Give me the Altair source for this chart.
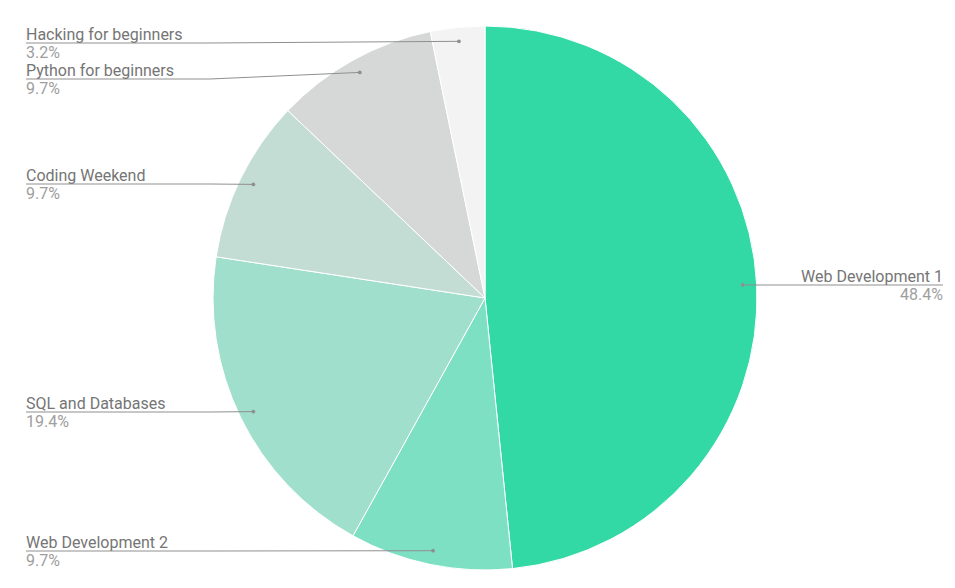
import altair as alt
import pandas as pd

# data
courses = ["Web Development 1", "Web Development 2", "SQL and Databases",
           "Coding Weekend", "Python for beginners", "Hacking for beginners"]
counts = [15, 3, 6, 3, 3, 1]
colors = ["#33d9a5", "#7de0c3", "#9fdfcb", "#c3ddd5", "#d5d8d7", "#f3f3f3"]

# label layout (pixel rows of the leader lines, side of the label)
label_rows = [277, 543, 404, 176, 71, 35]
label_sides = ["right", "left", "left", "left", "left", "left"]

CX, CY, R, RDOT = 477, 290, 272, 258

df = pd.DataFrame({
    "course": courses,
    "value": counts,
    "order": list(range(len(courses))),
    "laby": label_rows,
    "side": label_sides,
})

base = (
    alt.Chart(df)
    .transform_joinaggregate(total="sum(value)")
    .transform_window(cum="sum(value)", sort=[alt.SortField("order")], frame=[None, 0])
    .transform_calculate(
        mid="2*PI*(datum.cum - datum.value/2)/datum.total",
        pct="format(datum.value/datum.total, '.1%')",
    )
    .transform_calculate(
        dx=f"{CX} + {RDOT}*sin(datum.mid)",
        dy=f"{CY} - {RDOT}*cos(datum.mid)",
        labx="datum.side == 'left' ? 18 : 935",
        elbx="datum.side == 'left' ? 202 : 752",
    )
)

pie = alt.Chart(df).mark_arc(outerRadius=R, stroke="white", strokeWidth=1).encode(
    theta=alt.Theta("value:Q", stack=True),
    order=alt.Order("order:Q"),
    color=alt.Color("course:N", scale=alt.Scale(domain=courses, range=colors), legend=None),
    x=alt.value(CX),
    y=alt.value(CY),
)

line_color = "#8f8f8f"
rule1 = base.mark_rule(color=line_color, strokeWidth=1).encode(
    x=alt.X("labx:Q", scale=None), x2="elbx:Q",
    y=alt.Y("laby:Q", scale=None), y2="laby:Q",
)
rule2 = base.mark_rule(color=line_color, strokeWidth=1).encode(
    x=alt.X("elbx:Q", scale=None), x2="dx:Q",
    y=alt.Y("laby:Q", scale=None), y2="dy:Q",
)
dots = base.mark_circle(color=line_color, opacity=1, size=14).encode(
    x=alt.X("dx:Q", scale=None), y=alt.Y("dy:Q", scale=None),
)

def texts(side, align):
    b = base.transform_filter(f"datum.side == '{side}'")
    t1 = b.mark_text(align=align, baseline="alphabetic", dy=-3.5, font="Roboto",
                     fontSize=16, color="#757575").encode(
        x=alt.X("labx:Q", scale=None), y=alt.Y("laby:Q", scale=None), text="course:N")
    t2 = b.mark_text(align=align, baseline="alphabetic", dy=15, font="Roboto",
                     fontSize=16, color="#9e9e9e").encode(
        x=alt.X("labx:Q", scale=None), y=alt.Y("laby:Q", scale=None), text="pct:N")
    return t1 + t2

chart = alt.layer(pie, rule1, rule2, dots, texts("left", "left"), texts("right", "right")).properties(
    width=939, height=572, autosize="none", padding=0,
).configure_view(stroke=None)

chart.save("out.html", embed_options={"renderer": "svg", "actions": False})
